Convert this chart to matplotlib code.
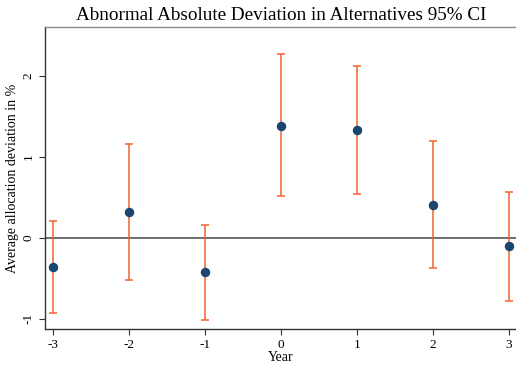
import matplotlib
matplotlib.use("Agg")
import matplotlib.pyplot as plt

years = [-3, -2, -1, 0, 1, 2, 3]
estimate = [-0.36, 0.31, -0.43, 1.38, 1.33, 0.40, -0.11]
ci_low = [-0.93, -0.53, -1.02, 0.51, 0.54, -0.38, -0.78]
ci_high = [0.20, 1.15, 0.15, 2.27, 2.12, 1.19, 0.56]
yticks = [-1, 0, 1, 2]

plt.rcParams['font.family'] = ['Liberation Serif', 'DejaVu Serif']

fig = plt.figure(figsize=(5.16, 3.65), dpi=100)
ax = fig.add_axes([44.5/516, (365-329.3)/365, (516-44.5)/516, (329.3-27)/365])

ax.axhline(0, color='#555555', lw=1.2, zorder=1)
lo_err = [e - l for e, l in zip(estimate, ci_low)]
hi_err = [h - e for e, h in zip(estimate, ci_high)]
ax.errorbar(years, estimate, yerr=[lo_err, hi_err], fmt='none',
            ecolor='#F2622E', elinewidth=1.1, capsize=2.7, capthick=1.1, zorder=2)
ax.plot(years, estimate, 'o', color='#1a476f', ms=5.8, zorder=3)

ax.set_xlim(-3.116, 3.092)
ax.set_ylim(-1.133, 2.599)
ax.set_xticks(years)
ax.set_xticklabels([str(y) for y in years], fontsize=9.5)
ax.set_yticks(yticks)
ax.set_yticklabels([str(y) for y in yticks], fontsize=9.5, rotation=90, va='center')
ax.tick_params(axis='both', length=4, width=0.8, color='#333333')
ax.tick_params(axis='y', pad=3)
ax.tick_params(axis='x', pad=3)
for s in ['left', 'bottom', 'top']:
    ax.spines[s].set_linewidth(1.0)
    ax.spines[s].set_color('#333333')
ax.spines['top'].set_color('#888888')
ax.spines['right'].set_visible(False)

ax.set_xlabel('Year', fontsize=10, labelpad=0)
ax.set_ylabel('Average allocation deviation in %', fontsize=10, labelpad=3)
fig.text(281.5 / 516, 1 - 15.5/365, 'Abnormal Absolute Deviation in Alternatives 95% CI',
         ha='center', va='center', fontsize=13.8)

fig.savefig('out.png', dpi=100)
